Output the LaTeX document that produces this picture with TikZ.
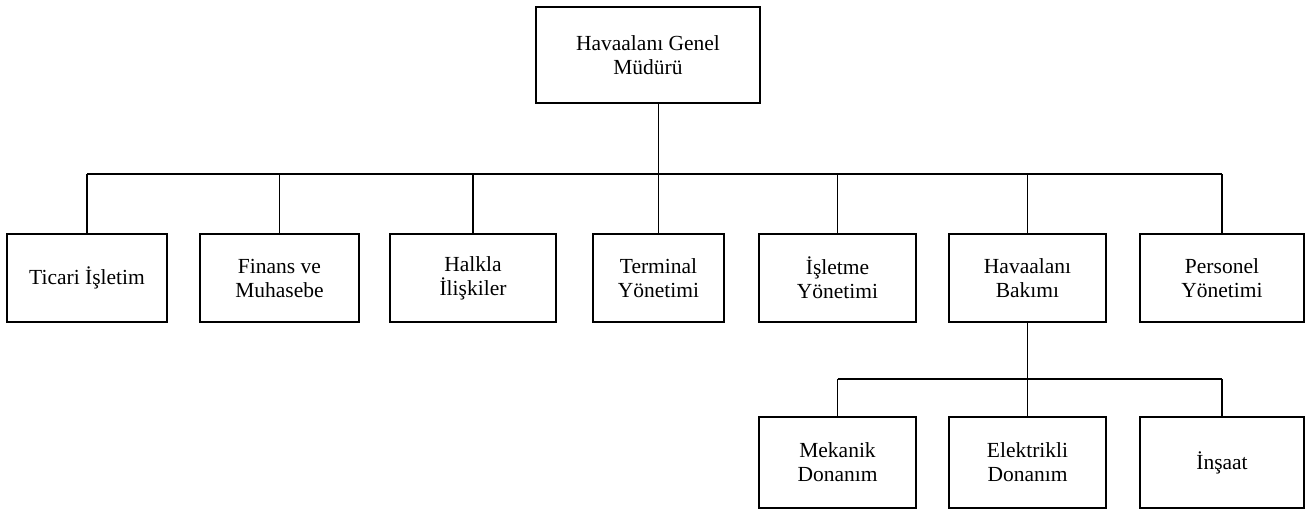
\documentclass[tikz,border=0pt]{standalone}
\usepackage{fontspec}
\setmainfont{Liberation Serif}

\begin{document}
\begin{tikzpicture}[x=1pt,y=-1pt,line width=1.2pt,
  kutu/.style={draw,align=center,inner sep=0pt,minimum height=88pt,
    font=\fontsize{21.5}{24}\selectfont}]

  \useasboundingbox (0,0) rectangle (1309,510);

  % genel mudur
  \node[kutu,minimum width=224pt,minimum height=96pt] (GM) at (648,55) {Havaalanı Genel\\Müdürü};

  % birimler
  \node[kutu,minimum width=160pt] (TI) at (87,278) {Ticari İşletim};
  \node[kutu,minimum width=159pt] (FM) at (279.5,278) {Finans ve\\Muhasebe};
  \node[kutu,minimum width=166pt] (HI) at (473,278) {Halkla\\İlişkiler};
  \node[kutu,minimum width=131pt] (TY) at (658.5,278) {Terminal\\Yönetimi};
  \node[kutu,minimum width=157pt] (IY) at (837.5,278) {İşletme\\Yönetimi};
  \node[kutu,minimum width=157pt] (HB) at (1027.5,278) {Havaalanı\\Bakımı};
  \node[kutu,minimum width=164pt] (PY) at (1222,278) {Personel\\Yönetimi};

  % bakim alt birimleri
  \node[kutu,minimum width=157pt,minimum height=91pt] (MD) at (837.5,462.5) {Mekanik\\Donanım};
  \node[kutu,minimum width=157pt,minimum height=91pt] (ED) at (1027.5,462.5) {Elektrikli\\Donanım};
  \node[kutu,minimum width=164pt,minimum height=91pt] (IN) at (1222,462.5) {İnşaat};

  \coordinate (bus) at (658,174);
  \coordinate (altbus) at (1028,379);

  \draw (GM.south -| TY.north) -- (TY.north);
  \draw (TI.north |- bus) -- (PY.north |- bus);
  \foreach \n in {TI,FM,HI,IY,HB,PY}
    \draw (\n.north) -- (\n.north |- bus);

  \draw (HB.south) -- (ED.north);
  \draw (MD.north |- altbus) -- (IN.north |- altbus);
  \foreach \n in {MD,IN}
    \draw (\n.north) -- (\n.north |- altbus);

\end{tikzpicture}
\end{document}
